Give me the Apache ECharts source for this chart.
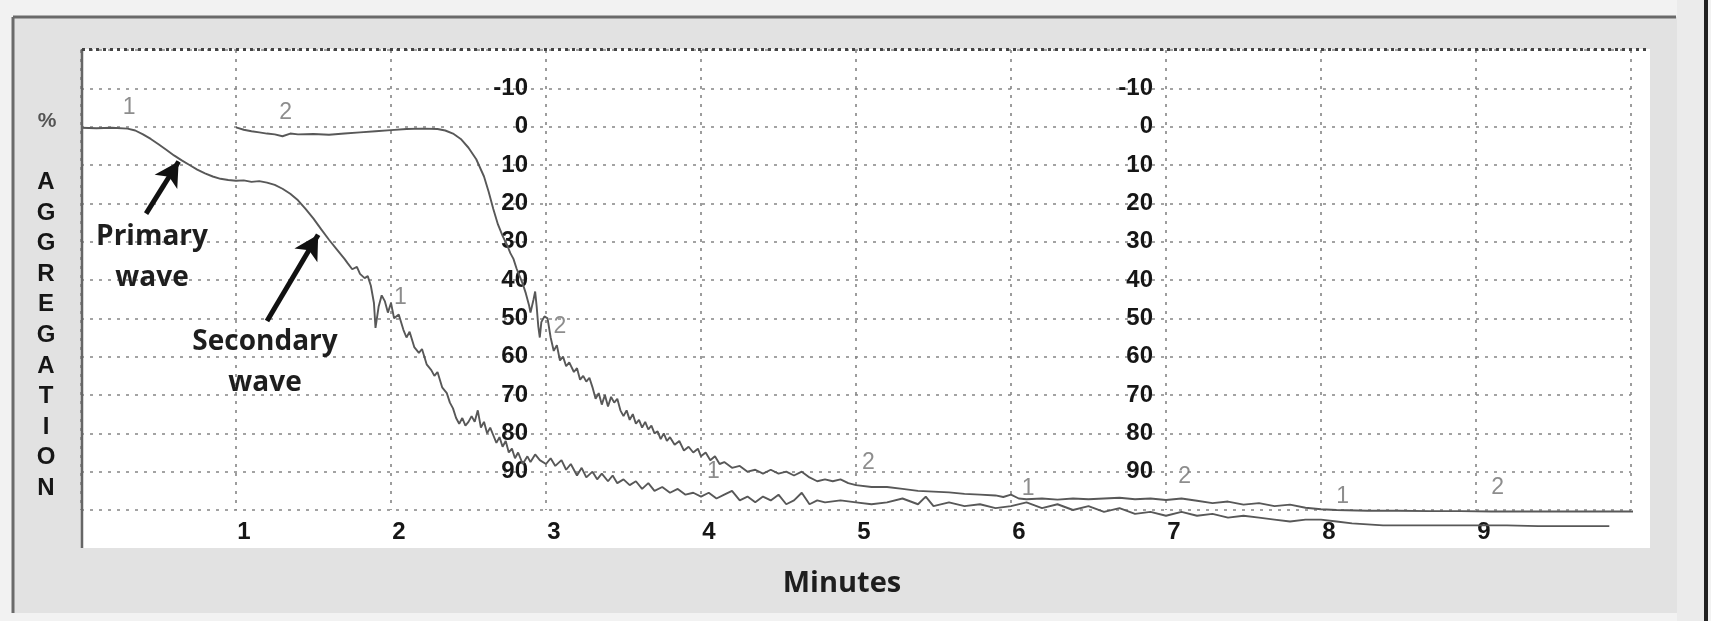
<!DOCTYPE html>
<html>
<head>
<meta charset="utf-8">
<script src="https://cdn.jsdelivr.net/npm/echarts/dist/echarts.min.js"></script>
<style>
html,body{margin:0;padding:0;background:#f2f2f2;}
#main{width:1711px;height:621px;}
</style>
</head>
<body>
<div id="main"></div>
<script>
// 时间轴/刻度
var xTickLabels = [1,2,3,4,5,6,7,8,9];
var yTickLabels = [-10,0,10,20,30,40,50,60,70,80,90];

// 曲线1 (primary + secondary wave) [minutes, % aggregation]
var curve1 = [
	[0.00,0.3],[0.10,0.4],[0.20,0.3],[0.30,0.5],[0.35,1.0],[0.40,2.0],[0.45,3.2],[0.50,4.6],
	[0.55,6.0],[0.60,7.5],[0.65,8.8],[0.70,10.0],[0.75,11.2],[0.80,12.2],[0.85,13.0],[0.90,13.6],
	[0.95,13.9],[1.00,14.1],[1.05,14.0],[1.10,14.4],[1.15,14.2],[1.20,14.6],[1.25,15.2],[1.30,16.2],
	[1.35,17.5],[1.40,19.2],[1.45,21.5],[1.50,24.0],[1.55,26.8],[1.60,29.5],[1.65,32.0],[1.70,34.5],
	[1.72,35.6],[1.75,37.2],[1.78,36.6],[1.80,38.4],[1.83,39.5],[1.85,39.0],[1.87,41.5],[1.89,46.0],
	[1.90,52.5],[1.92,47.0],[1.94,44.0],[1.96,45.5],[1.98,48.5],[2.00,46.0],[2.02,50.0],[2.05,49.0],
	[2.08,53.0],[2.10,55.0],[2.12,53.5],[2.15,57.5],[2.18,59.0],[2.20,58.0],[2.23,62.0],[2.26,63.5],
	[2.28,65.0],[2.30,64.0],[2.33,68.0],[2.36,69.5],[2.38,72.0],[2.40,73.5],[2.42,76.0],[2.44,77.5],
	[2.46,76.0],[2.48,78.0],[2.50,77.0],[2.52,75.5],[2.54,77.0],[2.56,74.0],[2.58,78.5],[2.60,77.0],
	[2.62,80.0],[2.64,78.5],[2.66,80.5],[2.68,82.5],[2.70,81.0],[2.72,83.5],[2.74,82.0],[2.76,85.0],
	[2.78,84.0],[2.80,86.5],[2.82,85.0],[2.85,88.0],[2.88,86.0],[2.90,87.5],[2.93,85.5],[2.96,87.0],
	[3.00,88.0],[3.03,86.5],[3.06,88.5],[3.10,87.0],[3.13,89.5],[3.16,88.0],[3.20,91.0],[3.23,89.0],
	[3.26,91.5],[3.30,90.0],[3.33,92.0],[3.36,90.5],[3.40,92.5],[3.43,91.0],[3.46,93.0],[3.50,92.0],
	[3.54,93.5],[3.58,92.5],[3.62,94.5],[3.66,93.0],[3.70,95.0],[3.75,94.0],[3.80,95.5],[3.85,94.5],
	[3.90,96.0],[3.95,95.5],[4.00,96.5],[4.05,95.5],[4.10,97.0],[4.15,96.0],[4.20,95.0],[4.25,97.5],
	[4.30,96.5],[4.35,98.0],[4.40,96.5],[4.45,97.5],[4.50,96.0],[4.55,98.5],[4.60,97.5],[4.65,95.5],
	[4.70,98.5],[4.75,97.5],[4.80,98.0],[4.90,97.5],[5.00,98.0],[5.10,98.5],[5.20,98.0],[5.30,97.0],
	[5.40,98.5],[5.45,96.5],[5.50,99.0],[5.60,98.0],[5.70,99.0],[5.80,98.5],[5.90,99.5],[6.00,99.0],
	[6.10,98.0],[6.20,99.5],[6.30,98.5],[6.40,100.0],[6.50,99.0],[6.60,100.5],[6.70,99.5],[6.80,101.0],
	[6.90,100.5],[7.00,101.5],[7.10,100.5],[7.20,101.5],[7.30,101.0],[7.40,102.0],[7.50,101.5],[7.60,102.0],
	[7.70,102.5],[7.80,103.0],[7.90,102.5],[8.00,102.5],[8.10,103.0],[8.20,103.5],[8.40,104.0],[8.60,104.0],
	[8.80,104.0],[9.00,104.0],[9.20,104.0],[9.40,104.2],[9.60,104.2],[9.86,104.2]
];

// 曲线2
var curve2 = [
	[1.00,0.2],[1.05,0.8],[1.10,1.2],[1.15,1.5],[1.20,1.8],[1.25,2.0],[1.30,2.5],[1.35,1.8],
	[1.40,2.0],[1.50,1.9],[1.60,2.1],[1.70,1.8],[1.80,1.5],[1.90,1.2],[2.00,0.9],[2.10,0.6],
	[2.20,0.5],[2.30,0.6],[2.35,1.0],[2.40,1.8],[2.45,3.2],[2.50,5.5],[2.55,8.5],[2.60,13.0],
	[2.63,17.0],[2.66,21.5],[2.69,25.5],[2.72,28.5],[2.75,31.0],[2.77,33.0],[2.79,34.5],[2.81,37.0],
	[2.83,39.0],[2.85,41.0],[2.87,43.5],[2.89,46.5],[2.90,48.5],[2.92,45.0],[2.93,43.0],[2.94,47.0],
	[2.95,52.0],[2.96,55.0],[2.97,51.0],[2.99,49.5],[3.01,50.0],[3.03,55.0],[3.05,58.5],[3.07,57.0],
	[3.09,61.0],[3.11,60.0],[3.13,62.5],[3.15,61.5],[3.18,64.0],[3.20,63.0],[3.22,66.0],[3.24,65.0],
	[3.26,66.5],[3.28,65.5],[3.30,68.0],[3.32,71.0],[3.34,69.5],[3.36,72.5],[3.38,70.0],[3.40,73.0],
	[3.42,70.5],[3.44,72.0],[3.46,71.0],[3.48,74.0],[3.50,75.5],[3.52,74.0],[3.54,76.5],[3.56,75.0],
	[3.58,77.5],[3.60,76.5],[3.62,78.5],[3.64,77.0],[3.66,79.0],[3.68,78.0],[3.70,80.0],[3.72,79.5],
	[3.74,81.5],[3.76,80.0],[3.78,82.0],[3.80,81.0],[3.83,83.0],[3.86,82.0],[3.89,84.5],[3.92,83.5],
	[3.95,85.0],[3.98,84.0],[4.00,86.0],[4.03,85.0],[4.06,87.0],[4.09,86.0],[4.12,88.0],[4.15,87.5],
	[4.20,89.0],[4.25,88.5],[4.30,90.0],[4.35,89.5],[4.40,90.5],[4.45,89.5],[4.50,90.5],[4.55,90.0],
	[4.60,91.0],[4.65,90.0],[4.70,91.5],[4.75,92.5],[4.80,92.0],[4.85,92.5],[4.90,92.0],[4.95,93.0],
	[5.00,93.5],[5.10,94.0],[5.20,94.0],[5.30,94.5],[5.40,95.0],[5.50,95.2],[5.60,95.4],[5.70,95.8],
	[5.80,96.0],[5.90,96.2],[5.95,96.6],[6.00,96.0],[6.05,97.0],[6.10,97.2],[6.20,97.0],[6.30,97.3],
	[6.40,97.0],[6.50,97.2],[6.60,97.0],[6.70,96.8],[6.80,97.2],[6.90,97.0],[7.00,97.4],[7.10,97.0],
	[7.20,97.6],[7.30,98.2],[7.40,97.8],[7.50,98.6],[7.60,98.2],[7.70,99.0],[7.80,98.6],[7.90,99.4],
	[8.00,99.8],[8.10,100.0],[8.30,100.2],[8.50,100.2],[8.70,100.3],[8.90,100.3],[9.10,100.4],[9.30,100.4],
	[9.50,100.4],[9.70,100.4],[9.90,100.4],[10.05,100.4]
];

// 曲线编号标记
var tagX = [0.31,1.32,2.06,3.09,4.08,5.08,6.11,7.12,8.14,9.14];
var tagY = [-4.9,-3.6,44.7,52.3,90.1,87.7,94.5,91.4,96.6,94.3];
var tagText = ['1','2','1','2','1','2','1','2','1','2'];

var numFont = '"Liberation Sans", Arial, sans-serif';
var noteFont = '"Open Sans", "Noto Sans", sans-serif';

function initChart(){
	var myChart = echarts.init(document.getElementById('main'));
	var tags = [];
	for (var i = 0; i < tagX.length; i++) {
		tags.push([tagX[i], tagY[i], tagText[i]]);
	}
	var yBase = {
		type : 'value',
		min : -20,
		max : 100,
		interval : 10,
		inverse : true,
		position : 'left',
		axisLine : {show : false},
		axisTick : {show : false},
		splitLine : {show : false}
	};
	function yLabel(offset, margin){
		return $.extend(true, {}, yBase, {
			offset : offset,
			axisLabel : {
				show : true,
				margin : margin,
				padding : [8, 0, 0, 0],
				color : '#161616',
				fontFamily : numFont,
				fontWeight : 'bold',
				fontSize : 24,
				formatter : function(v){
					return yTickLabels.indexOf(v) >= 0 ? String(v) : '';
				}
			}
		});
	}
	var option = {
		backgroundColor : '#f2f2f2',
		animation : false,
		grid : {left : 81, right : 80, top : 50, bottom : 111},
		graphic : [
			//外框
			{type:'rect', z:-10, shape:{x:13, y:17, width:1664, height:596}, style:{fill:'#e2e2e2'}},
			{type:'rect', z:-10, shape:{x:1677, y:0, width:27, height:621}, style:{fill:'#ebebeb'}},
			{type:'line', z:-9, shape:{x1:13, y1:17, x2:1676, y2:17}, style:{stroke:'#6a6a6a', lineWidth:3}},
			{type:'line', z:-9, shape:{x1:13, y1:17, x2:13, y2:613}, style:{stroke:'#6a6a6a', lineWidth:3}},
			{type:'line', z:-9, shape:{x1:1706, y1:0, x2:1706, y2:621}, style:{stroke:'#222', lineWidth:4}},
			//绘图区
			{type:'rect', z:-8, shape:{x:82, y:49, width:1568, height:499}, style:{fill:'#ffffff'}},
			{type:'line', z:5, shape:{x1:82, y1:49, x2:82, y2:548}, style:{stroke:'#666', lineWidth:2.5}},
			{type:'line', z:5, shape:{x1:82, y1:49.5, x2:1648, y2:49.5}, style:{stroke:'#444', lineWidth:3, lineDash:[3,4]}},
			//纵轴标题
			{type:'text', z:10, style:{text:'%', x:47, y:121, textAlign:'center', textVerticalAlign:'middle',
				fill:'#555', font:'bold 21px ' + numFont}},
			{type:'text', z:10, style:{text:'A\nG\nG\nR\nE\nG\nA\nT\nI\nO\nN', x:46, y:167, textAlign:'center',
				lineHeight:30.6, fill:'#161616', font:'bold 24px ' + numFont}},
			//横轴标题
			{type:'text', z:10, style:{text:'Minutes', x:842, y:584, textAlign:'center', textVerticalAlign:'middle',
				fill:'#1e1e1e', font:'bold 29px ' + noteFont}},
			//注释
			{type:'text', z:10, style:{text:'Primary\nwave', x:152, y:217, textAlign:'center', lineHeight:41,
				fill:'#1e1e1e', font:'bold 28px ' + noteFont}},
			{type:'text', z:10, style:{text:'Secondary\nwave', x:265, y:322, textAlign:'center', lineHeight:41,
				fill:'#1e1e1e', font:'bold 28px ' + noteFont}}
		],
		xAxis : [{
			type : 'value',
			min : 0,
			max : 10,
			interval : 1,
			position : 'bottom',
			axisLine : {show : false},
			axisTick : {show : false},
			axisLabel : {
				margin : 10,
				padding : [0, 0, 0, 16],
				color : '#161616',
				fontFamily : numFont,
				fontWeight : 'bold',
				fontSize : 24,
				formatter : function(v){
					return xTickLabels.indexOf(v) >= 0 ? String(v) : '';
				}
			},
			splitLine : {show : true, lineStyle : {color : '#858585', width : 1.6, type : [3, 6]}}
		}],
		yAxis : [
			$.extend(true, {}, yBase, {
				axisLabel : {show : false},
				splitLine : {show : true, lineStyle : {color : '#858585', width : 1.6, type : [3, 6]}}
			}),
			yLabel(-465, 18),
			yLabel(-1085, 13)
		],
		series : [{
			name : '1',
			type : 'line',
			data : curve1,
			showSymbol : false,
			clip : false,
			lineStyle : {color : '#585858', width : 1.9},
			markLine : {
				silent : true,
				symbol : ['none', 'arrow'],
				symbolSize : [20, 24],
				label : {show : false},
				lineStyle : {color : '#111', width : 5, type : 'solid'},
				data : [
					[{coord : [0.42, 22.7]}, {coord : [0.63, 9.1]}],
					[{coord : [1.20, 50.7]}, {coord : [1.53, 28.2]}]
				]
			}
		},{
			name : '2',
			type : 'line',
			data : curve2,
			showSymbol : false,
			clip : false,
			lineStyle : {color : '#585858', width : 1.9}
		},{
			name : 'tags',
			type : 'scatter',
			data : tags,
			symbolSize : 0,
			clip : false,
			label : {
				show : true,
				position : 'inside',
				color : '#707070',
				fontFamily : numFont,
				fontSize : 23,
				formatter : function(p){ return p.data[2]; }
			}
		}]
	};
	myChart.setOption(option);
}
</script>
<script>
// 简单的深度合并
var $ = {
	extend : function(deep, target){
		for (var i = 2; i < arguments.length; i++) {
			var src = arguments[i];
			for (var k in src) {
				var v = src[k];
				if (deep && v && typeof v === 'object' && !Array.isArray(v) && typeof v !== 'function') {
					target[k] = $.extend(true, target[k] && typeof target[k] === 'object' ? target[k] : {}, v);
				} else {
					target[k] = v;
				}
			}
		}
		return target;
	}
};
initChart();
</script>
</body>
</html>
